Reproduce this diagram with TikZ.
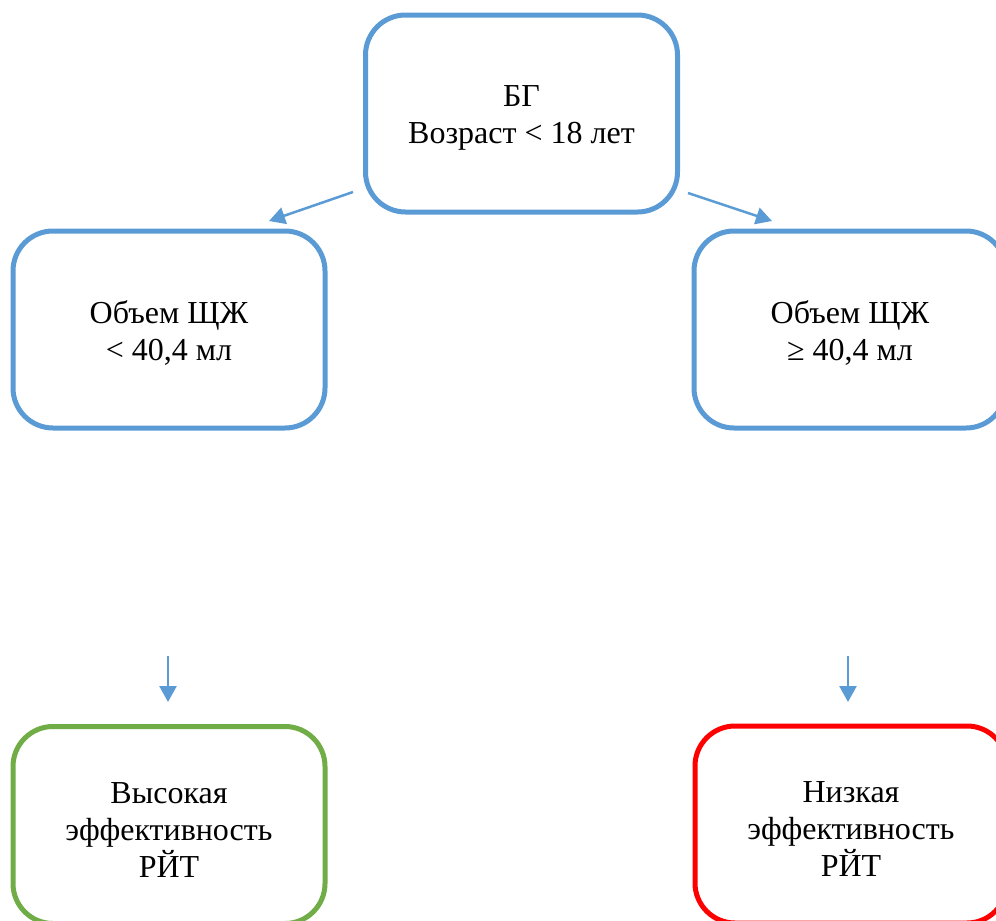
\documentclass[tikz,border=0pt]{standalone}
\usepackage{fontspec}
\setmainfont{Liberation Serif}
\usetikzlibrary{arrows.meta}
\definecolor{boxblue}{HTML}{5B9BD5}
\definecolor{boxgreen}{HTML}{70AD47}
\definecolor{boxred}{HTML}{FF0000}
\newcommand{\lowstrut}{\rule{0pt}{30pt}}
\tikzset{
  card/.style={draw=boxblue, line width=5pt, rounded corners=40pt, fill=white,
    minimum width=312pt, minimum height=197pt, align=center, inner sep=0pt,
    font=\fontsize{32}{37}\selectfont},
  link/.style={draw=boxblue, line width=2.5pt, -{Triangle[length=16pt,width=17pt]}}
}
\begin{document}
\begin{tikzpicture}[x=1pt,y=-1pt]
\useasboundingbox (0,0) rectangle (996,921);
\clip (0,0) rectangle (996,921);
\node[card] (top) at (521.5,113.5) {\lowstrut БГ\\Возраст < 18 лет};
\node[card] (ml) at (169,329.5) {\lowstrut Объем ЩЖ\\< 40,4 мл};
\node[card] (mr) at (850,329.5) {\lowstrut Объем ЩЖ\\≥ 40,4 мл};
\node[card, draw=boxgreen] (bl) at (169,825) {\lowstrut Высокая\\эффективность\\РЙТ};
\node[card, draw=boxred] (br) at (851,824.5) {\lowstrut Низкая\\эффективность\\РЙТ};
\coordinate (a1s) at (353,192);
\coordinate (a1e) at (269,221);
\coordinate (a2s) at (688,193);
\coordinate (a2e) at (772,221);
\coordinate (a3s) at (168,656);
\coordinate (a3e) at (168,702);
\coordinate (a4s) at (848,656);
\coordinate (a4e) at (848,702);
\draw[link] (a1s) -- (a1e);
\draw[link] (a2s) -- (a2e);
\draw[link] (a3s) -- (a3e);
\draw[link] (a4s) -- (a4e);
\end{tikzpicture}
\end{document}
